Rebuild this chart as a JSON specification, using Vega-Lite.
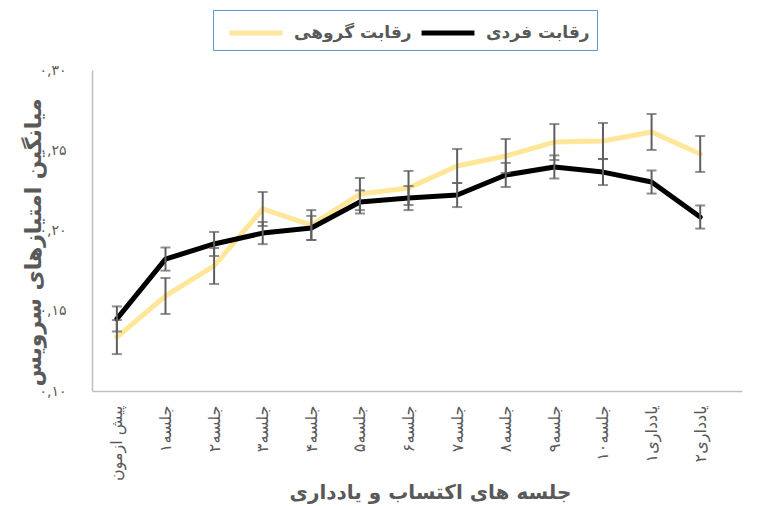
{
  "$schema": "https://vega.github.io/schema/vega-lite/v6.json",
  "width": 650,
  "height": 321,
  "autosize": {"type": "none"},
  "padding": {"left": 92, "top": 70, "right": 20, "bottom": 115},
  "background": "white",
  "config": {
    "view": {"stroke": null},
    "font": "DejaVu Sans"
  },
  "data": {
    "values": [
      {"s": "پیش ازمون", "g": "رقابت گروهی", "m": 0.1336, "e": 0.0106},
      {"s": "جلسه۱", "g": "رقابت گروهی", "m": 0.1592, "e": 0.0112},
      {"s": "جلسه۲", "g": "رقابت گروهی", "m": 0.1779, "e": 0.0112},
      {"s": "جلسه۳", "g": "رقابت گروهی", "m": 0.2134, "e": 0.0106},
      {"s": "جلسه۴", "g": "رقابت گروهی", "m": 0.2034, "e": 0.0093},
      {"s": "جلسه۵", "g": "رقابت گروهی", "m": 0.2227, "e": 0.0100},
      {"s": "جلسه۶", "g": "رقابت گروهی", "m": 0.2265, "e": 0.0106},
      {"s": "جلسه۷", "g": "رقابت گروهی", "m": 0.2402, "e": 0.0106},
      {"s": "جلسه۸", "g": "رقابت گروهی", "m": 0.2464, "e": 0.0106},
      {"s": "جلسه۹", "g": "رقابت گروهی", "m": 0.2551, "e": 0.0112},
      {"s": "جلسه۱۰", "g": "رقابت گروهی", "m": 0.2558, "e": 0.0112},
      {"s": "یادداری۱", "g": "رقابت گروهی", "m": 0.2614, "e": 0.0112},
      {"s": "یادداری۲", "g": "رقابت گروهی", "m": 0.2477, "e": 0.0112},
      {"s": "پیش ازمون", "g": "رقابت فردی", "m": 0.1449, "e": 0.0078},
      {"s": "جلسه۱", "g": "رقابت فردی", "m": 0.1822, "e": 0.0072},
      {"s": "جلسه۲", "g": "رقابت فردی", "m": 0.1916, "e": 0.0075},
      {"s": "جلسه۳", "g": "رقابت فردی", "m": 0.1984, "e": 0.0069},
      {"s": "جلسه۴", "g": "رقابت فردی", "m": 0.2016, "e": 0.0075},
      {"s": "جلسه۵", "g": "رقابت فردی", "m": 0.2178, "e": 0.0072},
      {"s": "جلسه۶", "g": "رقابت فردی", "m": 0.2202, "e": 0.0075},
      {"s": "جلسه۷", "g": "رقابت فردی", "m": 0.2221, "e": 0.0075},
      {"s": "جلسه۸", "g": "رقابت فردی", "m": 0.2346, "e": 0.0075},
      {"s": "جلسه۹", "g": "رقابت فردی", "m": 0.2396, "e": 0.0072},
      {"s": "جلسه۱۰", "g": "رقابت فردی", "m": 0.2364, "e": 0.0081},
      {"s": "یادداری۱", "g": "رقابت فردی", "m": 0.2302, "e": 0.0072},
      {"s": "یادداری۲", "g": "رقابت فردی", "m": 0.2084, "e": 0.0072}
    ]
  },
  "encoding": {
    "x": {
      "field": "s",
      "type": "ordinal",
      "sort": ["پیش ازمون", "جلسه۱", "جلسه۲", "جلسه۳", "جلسه۴", "جلسه۵", "جلسه۶", "جلسه۷", "جلسه۸", "جلسه۹", "جلسه۱۰", "یادداری۱", "یادداری۲"],
      "scale": {"type": "point", "padding": 0.686, "align": 0.373},
      "axis": {
        "title": "جلسه های اکتساب  و یادداری",
        "titleFontSize": 20,
        "titleFontWeight": "bold",
        "titleColor": "#595959",
        "titleX": 338,
        "titleY": 101,
        "titleBaseline": "middle",
        "titleAlign": "center",
        "labelAngle": -90,
        "labelFontSize": 16,
        "labelColor": "#595959",
        "labelPadding": 14,
        "ticks": false,
        "domainColor": "#BFBFBF",
        "domainWidth": 1.5,
        "grid": false
      }
    },
    "y": {
      "field": "m",
      "type": "quantitative",
      "scale": {"domain": [0.1, 0.3], "nice": false, "zero": false},
      "axis": {
        "title": "میانگین امتیازهای سرویس",
        "titleFontSize": 22,
        "titleFontWeight": "bold",
        "titleColor": "#595959",
        "titleX": -59,
        "titleY": 172,
        "titleAlign": "center",
        "titleBaseline": "middle",
        "titleAngle": -90,
        "values": [0.1, 0.15, 0.2, 0.25, 0.3],
        "labelExpr": "datum.value < 0.12 ? '۰,۱۰' : datum.value < 0.17 ? '۰,۱۵' : datum.value < 0.22 ? '۰,۲۰' : datum.value < 0.27 ? '۰,۲۵' : '۰,۳۰'",
        "labelFontSize": 14,
        "labelColor": "#595959",
        "labelPadding": 26,
        "ticks": false,
        "grid": false,
        "domainColor": "#BFBFBF",
        "domainWidth": 1.5
      }
    }
  },
  "layer": [
    {
      "mark": {"type": "line", "strokeWidth": 5, "strokeJoin": "round", "strokeCap": "round"},
      "encoding": {
        "color": {
          "field": "g",
          "type": "nominal",
          "scale": {"domain": ["رقابت گروهی", "رقابت فردی"], "range": ["#FFE699", "#000000"]},
          "legend": {
            "orient": "none",
            "legendX": 121,
            "legendY": -60,
            "direction": "horizontal",
            "title": null,
            "symbolType": "M-2,0H2",
            "symbolSize": 700,
            "symbolStrokeWidth": 5,
            "symbolOffset": 20,
            "labelFontSize": 17,
            "labelFontWeight": "bold",
            "labelColor": "#595959",
            "labelOffset": 22,
            "columnPadding": -32,
            "strokeColor": "#5B9BD5",
            "fillColor": "white",
            "padding": 7
          }
        }
      }
    },
    {
      "mark": {"type": "errorbar", "ticks": {"size": 10}, "color": "#5F5F5F", "thickness": 2},
      "encoding": {
        "yError": {"field": "e"}
      }
    }
  ]
}
